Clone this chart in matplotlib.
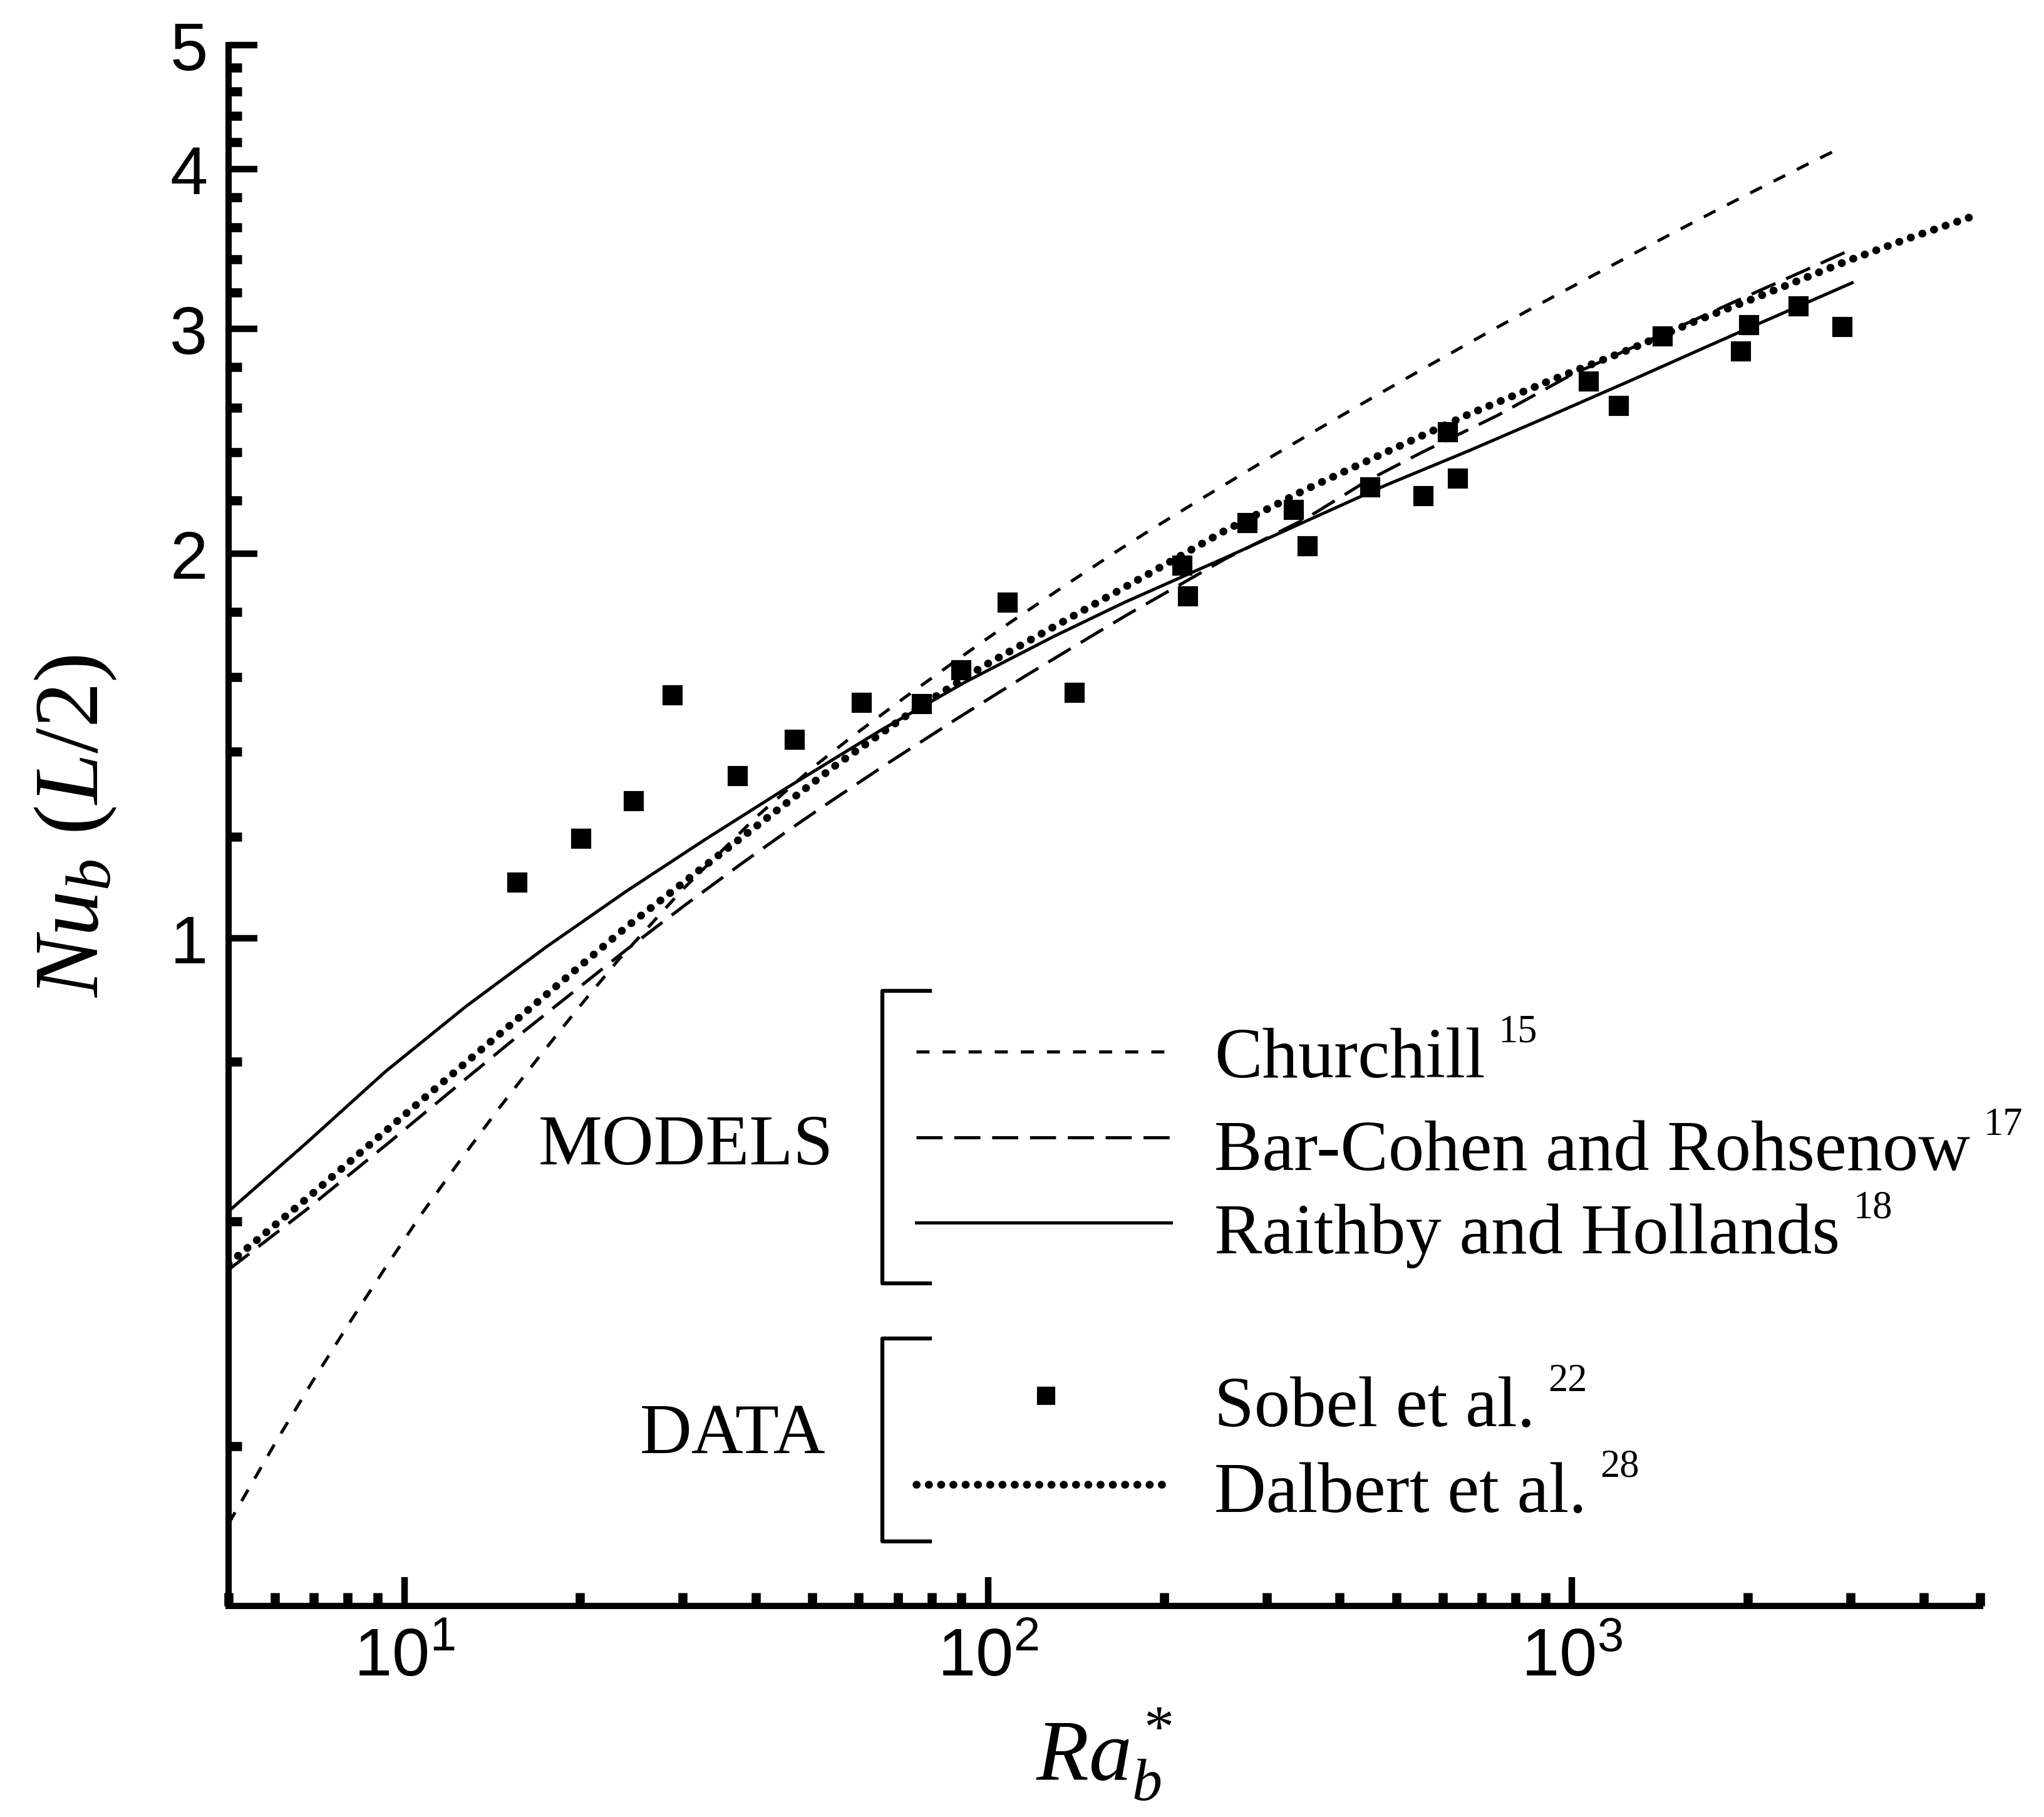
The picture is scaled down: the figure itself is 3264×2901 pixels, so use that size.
import numpy as np
import matplotlib
matplotlib.use("Agg")
import matplotlib.pyplot as plt
from matplotlib.ticker import FixedLocator, FixedFormatter, LogLocator, NullFormatter

# --- data ---
# Sobel et al. (squares)
sobel_ra = [15.6, 20.1, 24.7, 28.8, 37.2, 46.6, 60.7, 76.9, 89.9, 108, 140.6,
            215, 219.6, 278, 334, 352.6, 451, 557, 613, 638, 1067, 1202,
            1430, 1945, 2010, 2443, 2900]
sobel_nu = [1.105, 1.196, 1.280, 1.549, 1.339, 1.430, 1.529, 1.525, 1.621,
            1.830, 1.556, 1.958, 1.852, 2.113, 2.164, 2.027, 2.254, 2.218,
            2.49, 2.29, 2.727, 2.61, 2.957, 2.88, 3.02, 3.124, 3.01]

# Churchill (short dashes)
churchill_ra = [5.0, 6.06, 6.98, 8.06, 9.28, 10.7, 12.35, 14.47, 16.9, 19.8,
                23.2, 30, 40, 50, 58.6, 71.7, 88.4, 108.8, 136.3, 168, 190,
                237, 293.6, 372.5, 464.5, 580.6, 725, 903.6, 1285, 1618,
                2038, 2559, 2890]
churchill_nu = [0.348, 0.405, 0.4505, 0.500, 0.552, 0.608, 0.666, 0.734,
                0.804, 0.880, 0.96, 1.092, 1.243, 1.359, 1.439, 1.541, 1.651,
                1.765, 1.892, 2.015, 2.088, 2.221, 2.356, 2.512, 2.663, 2.822,
                2.987, 3.156, 3.44, 3.636, 3.839, 4.045, 4.157]

# Bar-Cohen and Rohsenow (long dashes)
barcohen_ra = [5.0, 6.77, 9.28, 12.75, 15.4, 24.0, 30.4, 38.0, 45.2, 53,
               67.4, 88.4, 115.8, 154, 175.6, 254.8, 350, 445.5, 551, 746,
               997, 1301, 1563, 1757, 2163, 2426, 2943]
barcohen_nu = [0.550, 0.612, 0.688, 0.776, 0.833, 0.979, 1.063, 1.1455, 1.212,
               1.274, 1.371, 1.485, 1.604, 1.735, 1.798, 1.981, 2.13, 2.28,
               2.398, 2.566, 2.76, 2.914, 3.025, 3.099, 3.234, 3.31, 3.444]

# Raithby and Hollands (solid)
raithby_ra = [5.0, 6.77, 9.28, 12.75, 17.5, 24.0, 32.9, 45.2, 65.4, 91.5,
              129.4, 171, 254.8, 350, 479.5, 667, 914, 1256, 1639, 2058, 3017]
raithby_nu = [0.611, 0.690, 0.786, 0.884, 0.984, 1.088, 1.196, 1.311, 1.454,
              1.587, 1.722, 1.831, 1.985, 2.12, 2.262, 2.408, 2.562, 2.73,
              2.882, 3.018, 3.258]

# Dalbert et al. (dotted)
dalbert_ra = [5.0, 6.77, 9.28, 12.75, 17.5, 24.0, 33.7, 43.0, 54.9, 75, 98.0,
              129.4, 186, 254.8, 350, 479.5, 667, 914, 1256, 1639, 2058,
              2965, 3771, 5000]
dalbert_nu = [0.556, 0.624, 0.706, 0.799, 0.903, 1.02, 1.151, 1.254, 1.366,
              1.51, 1.632, 1.752, 1.922, 2.085, 2.245, 2.40, 2.572, 2.73,
              2.89, 3.045, 3.17, 3.39, 3.53, 3.69]

y_major = [1, 2, 3, 4, 5]
y_major_labels = ["1", "2", "3", "4", "5"]
y_minor = [0.4, 0.6, 0.8, 1.2, 1.4, 1.6, 1.8, 2.2, 2.4, 2.6, 2.8,
           3.2, 3.4, 3.6, 3.8, 4.2, 4.4, 4.6, 4.8]

plt.rcParams["font.family"] = "Liberation Sans"
plt.rcParams["mathtext.fontset"] = "custom"
plt.rcParams["mathtext.rm"] = "Liberation Serif"
plt.rcParams["mathtext.it"] = "Liberation Serif:italic"
plt.rcParams["lines.scale_dashes"] = False

SERIF = "Liberation Serif"

# line styles
st_churchill = dict(color="k", lw=1.2, dashes=(5, 5))
st_barcohen = dict(color="k", lw=1.2, dashes=(10, 4.5))
st_raithby = dict(color="k", lw=1.2)
st_dalbert = dict(color="k", lw=3.0, dashes=(0.1, 4.6), dash_capstyle="round")
st_sobel = dict(color="k", marker="s", ls="none", ms=6.5)

fig = plt.figure(figsize=(10.88, 9.6733), dpi=300)
ax = fig.add_axes([0.1118, 0.1161, 0.857, 0.8587])

ax.plot(churchill_ra, churchill_nu, **st_churchill)
ax.plot(barcohen_ra, barcohen_nu, **st_barcohen)
ax.plot(raithby_ra, raithby_nu, **st_raithby)
ax.plot(dalbert_ra, dalbert_nu, **st_dalbert)
ax.plot(sobel_ra, sobel_nu, **st_sobel)

ax.set_xscale("log")
ax.set_yscale("log")
ax.set_xlim(5, 5000)
ax.set_ylim(0.3, 5)

ax.xaxis.set_major_locator(LogLocator(base=10))
ax.xaxis.set_minor_locator(LogLocator(base=10, subs=np.arange(2, 10)))
ax.xaxis.set_minor_formatter(NullFormatter())
ax.yaxis.set_major_locator(FixedLocator(y_major))
ax.yaxis.set_major_formatter(FixedFormatter(y_major_labels))
ax.yaxis.set_minor_locator(FixedLocator(y_minor))
ax.yaxis.set_minor_formatter(NullFormatter())

for side in ["top", "right"]:
    ax.spines[side].set_visible(False)
for side in ["left", "bottom"]:
    ax.spines[side].set_linewidth(2.4)

ax.tick_params(which="both", direction="in", top=False, right=False,
               labelsize=26, pad=8)
ax.tick_params(which="major", length=11, width=2.5)
ax.tick_params(which="minor", length=5, width=3.5)

ax.set_xlabel(r"$\mathit{Ra}_b^*$", fontsize=33)
ax.xaxis.set_label_coords(0.5, -0.064)
ax.set_ylabel(r"$\mathit{Nu_b\ (L/2)}$", fontsize=35)
ax.yaxis.set_label_coords(-0.063, 0.5)

# --- hand-made legend with brackets ---
T = ax.transAxes
ax.text(0.3454, 0.2833, "MODELS", transform=T, ha="right", va="baseline",
        fontsize=27.5, family=SERIF)
ax.text(0.3407, 0.0983, "DATA", transform=T, ha="right", va="baseline",
        fontsize=27.5, family=SERIF)

bx0, bx1 = 0.3733, 0.4004
for top, bot in [(0.3941, 0.2067), (0.1713, 0.0413)]:
    ax.plot([bx1, bx0, bx0, bx1], [top, top, bot, bot], color="k", lw=1.5,
            transform=T, clip_on=False)

lx0, lx1 = 0.3926, 0.5381
text_x = 0.5628
entries = [
    ("Churchill", "15", st_churchill, 0.3551, 0.3391),
    ("Bar-Cohen and Rohsenow", "17", st_barcohen, 0.3002, 0.2797),
    ("Raithby and Hollands", "18", st_raithby, 0.2456, 0.2263),
    ("Sobel et al.", "22", st_sobel, 0.1348, 0.1156),
    ("Dalbert et al.", "28", st_dalbert, 0.0778, 0.0606),
]
for label, ref, style, ly, ty in entries:
    if style is st_sobel:
        ax.plot([0.4666], [ly], transform=T, clip_on=False, **dict(style, ms=6))
    else:
        ax.plot([lx0, lx1], [ly, ly], transform=T, clip_on=False, **style)
    t = ax.text(text_x, ty, label, transform=T, ha="left", va="baseline",
                fontsize=27.5, family=SERIF)
    ax.annotate(ref, xy=(1, 1), xycoords=t, xytext=(5, 5),
                textcoords="offset points", ha="left", va="top",
                fontsize=15, family=SERIF)

fig.savefig("out.png", dpi=300)
